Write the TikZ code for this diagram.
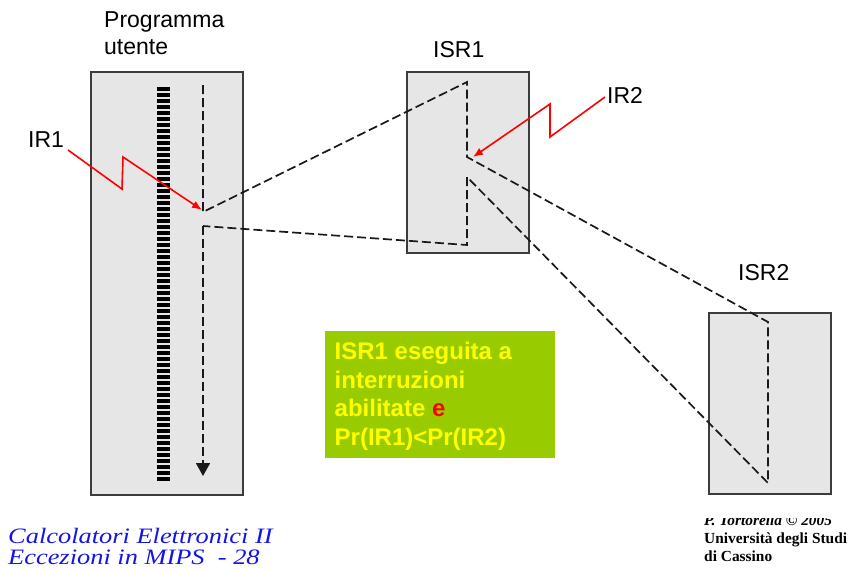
\documentclass[tikz,border=0pt]{standalone}
\usepackage{fontspec}
\setmainfont{Liberation Sans}
\newfontfamily\serifb{Liberation Serif}
\usetikzlibrary{arrows.meta}
\definecolor{boxgray}{RGB}{230,230,230}
\definecolor{boxborder}{RGB}{60,60,60}
\definecolor{notegreen}{RGB}{153,204,0}
\definecolor{noteyellow}{RGB}{255,255,0}
\definecolor{footblue}{RGB}{20,20,230}
\begin{document}
\begin{tikzpicture}[x=1pt,y=-1pt,
  panel/.style={draw=boxborder, fill=boxgray, line width=1.5pt, inner sep=0pt, outer sep=0pt},
  flow/.style={dash pattern=on 9pt off 4pt, line width=1.7pt, draw=black!90},
  irq/.style={red, line width=1.6pt, -{Latex[length=10pt,width=8pt]}},
  lbl/.style={font=\fontsize{23}{27}\selectfont, inner sep=0pt, anchor=base west},
  rung/.style={line width=3.3pt},
  foot/.style={anchor=base west, inner sep=0pt, text=footblue, font=\serifb\itshape\fontsize{22}{22}\selectfont}]
\useasboundingbox (0,0) rectangle (854,570);

% panels
\node[panel, minimum width=152pt, minimum height=423pt] (prog) at (167,283.5) {};
\node[panel, minimum width=122pt, minimum height=181pt] (isr1) at (468,162.5) {};
\node[panel, minimum width=122pt, minimum height=181pt] (isr2) at (770,403.5) {};

% instruction ladder
\foreach \y in {89,95,...,479} \draw[rung] (157,\y) -- (170,\y);

% labels
\node[lbl, anchor=north west, align=left] (progl) at (104,11.5) {Programma\\utente};
\node[lbl] (isr1l) at (433,57) {ISR1};
\node[lbl] (isr2l) at (738,280) {ISR2};
\node[lbl] (ir1l) at (28,147) {IR1};
\node[lbl] (ir2l) at (607,103) {IR2};

% flow coordinates
\coordinate (p0) at (203,85);
\coordinate (p1) at (203,212);
\coordinate (a0) at (467,82);
\coordinate (a1) at (467,157);
\coordinate (a2) at (467,177);
\coordinate (a3) at (467,245);
\coordinate (b0) at (768,322);
\coordinate (b1) at (768,483);
\coordinate (p2) at (203,226);
\coordinate (p3) at (203,476);

\draw[flow] (p0) -- (p1) -- (a0) -- (a1) -- (b0) -- (b1) -- (a2) -- (a3) -- (p2);
\draw[flow, -{Triangle[width=14pt,length=13pt]}] (p2) -- (p3);

% interrupt requests
\coordinate (ir1s) at (68,150);
\coordinate (ir1a) at (122,189);
\coordinate (ir1b) at (123,157);
\coordinate (ir1t) at (202,210);
\draw[irq] (ir1s) -- (ir1a) -- (ir1b) -- (ir1t);
\coordinate (ir2s) at (605,97);
\coordinate (ir2a) at (550,137);
\coordinate (ir2b) at (550,104);
\coordinate (ir2t) at (473,157);
\draw[irq] (ir2s) -- (ir2a) -- (ir2b) -- (ir2t);

% note
\node[fill=notegreen, inner sep=0pt, minimum width=230pt, minimum height=127pt] (note) at (440,394.5) {};
\node[anchor=north west, inner sep=0pt, align=left, text=noteyellow,
      font=\bfseries\fontsize{24}{28.7}\selectfont] (notet) at (334.5,341.8)
  {ISR1 eseguita a\\interruzioni\\abilitate \textcolor{red}{e}\\Pr(IR1)<Pr(IR2)};

% footer left
\node[foot] (f1) at (8,543) {\scalebox{1.2}[1]{Calcolatori Elettronici II}};
\node[foot] (f2) at (8,564) {\scalebox{1.2}[1]{Eccezioni in MIPS \ - 28}};

% footer right
\begin{scope}
\clip (690,518) rectangle (854,570);
\node[anchor=base west, inner sep=0pt, font=\serifb\bfseries\itshape\fontsize{15.4}{18}\selectfont] (auth) at (704,525) {P. Tortorella © 2005};
\end{scope}
\node[anchor=base west, inner sep=0pt, font=\serifb\bfseries\fontsize{15.4}{18}\selectfont] (univ) at (704,543) {Università degli Studi};
\node[anchor=base west, inner sep=0pt, font=\serifb\bfseries\fontsize{15.4}{18}\selectfont] (cass) at (704,561) {di Cassino};
\end{tikzpicture}
\end{document}
